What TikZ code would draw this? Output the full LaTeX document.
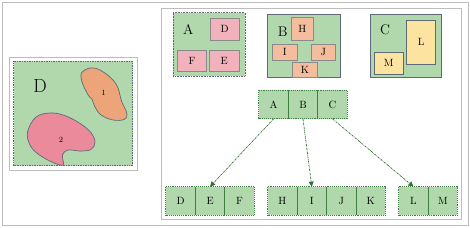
\documentclass[tikz,border=0pt]{standalone}
\usepackage{tikz}
\usetikzlibrary{arrows.meta,positioning}
\definecolor{framegray}{HTML}{BDBDBD}
\definecolor{cellgreen}{HTML}{B0D8AC}
\definecolor{celledge}{HTML}{3E7E3E}
\definecolor{boxedge}{HTML}{5E6A78}
\definecolor{subedge}{HTML}{8A8A8A}
\definecolor{pinkfill}{HTML}{F2B2BC}
\definecolor{salmonfill}{HTML}{F4BE9E}
\definecolor{yellowfill}{HTML}{FDE3A0}
\definecolor{blobone}{HTML}{EDA478}
\definecolor{blobtwo}{HTML}{EA8A9A}
\definecolor{arrowgreen}{HTML}{2F6F2F}
\tikzset{
  cell/.style={fill=cellgreen, minimum width=29.1pt, minimum height=28.4pt, inner sep=0pt, font=\fontsize{10.5}{10.5}\selectfont},
  divider/.style={celledge, line width=0.8pt},
  cellframe/.style={celledge, line width=0.9pt, densely dotted},
  subbox/.style={draw=subedge, line width=0.8pt, inner sep=0pt, font=\fontsize{10.5}{10.5}\selectfont},
  panel/.style={draw=boxedge, fill=cellgreen, line width=0.6pt, inner sep=0pt},
  biglabel/.style={font=\fontsize{14}{14}\selectfont, inner sep=0pt},
  link/.style={arrowgreen, line width=0.7pt, dash pattern=on 2pt off 0.8pt on 0.6pt off 0.8pt, -{Triangle[length=5pt,width=5pt]}},
}
\begin{document}
\begin{tikzpicture}[x=1pt,y=-1pt]
  \useasboundingbox (0,0) rectangle (470,227);
  % frames
  \draw[framegray, line width=1pt] (2.5,2.5) rectangle (468,225.5);
  \draw[framegray, line width=1pt] (161,8.5) rectangle (461.5,219.5);
  \draw[framegray, line width=1pt] (9.5,58) rectangle (137.5,170);
  % region D with its two parts
  \draw[fill=cellgreen, draw=boxedge, line width=0.7pt, densely dotted] (13.5,61.5) rectangle (132.5,165.5);
  \node[font=\fontsize{19}{19}\selectfont, inner sep=0pt] (labd) at (40,86) {D};
  \draw[fill=blobone, draw=boxedge, line width=0.7pt] plot[smooth cycle, tension=0.6] coordinates
    {(90,68) (100,70) (112,79) (118,88) (121.5,101) (127,114) (124,119.5) (113,120) (101,115)
     (94.5,106) (92,99) (89.5,97) (86,91) (82,82) (81.5,73)};
  \node[font=\fontsize{8}{8}\selectfont] (blob1) at (103.5,93) {1};
  \draw[fill=blobtwo, draw=boxedge, line width=0.7pt] plot[smooth cycle, tension=0.6] coordinates
    {(27.5,132) (36,117) (50,113) (63,115) (77,121.5) (90,131.5) (95,142) (91,149.5) (80,151)
     (68,150) (62.5,155) (63,165) (52,162) (38,154) (30,145)};
  \node[font=\fontsize{8}{8}\selectfont] (blob2) at (61,139.5) {2};
  % panel A
  \node[panel, densely dotted, minimum width=71.7pt, minimum height=63.3pt] (pana) at (209.2,44.3) {};
  \node[biglabel] (laba) at (188.3,30) {A};
  \node[subbox, fill=pinkfill, minimum width=29.3pt, minimum height=21.7pt] (pd) at (224.7,29.2) {D};
  \node[subbox, fill=pinkfill, minimum width=29.4pt, minimum height=21pt] (pf) at (192,61.2) {F};
  \node[subbox, fill=pinkfill, minimum width=30pt, minimum height=21pt] (pe) at (224.3,61.2) {E};
  % panel B
  \node[panel, minimum width=72.3pt, minimum height=63.3pt] (panb) at (303.8,45.7) {};
  \node[biglabel] (labb) at (282.7,31.7) {B};
  \node[subbox, fill=salmonfill, minimum width=22.3pt, minimum height=22.7pt] (ph) at (302.2,28.7) {H};
  \node[subbox, fill=salmonfill, minimum width=25pt, minimum height=15.7pt] (pi) at (284.8,52.2) {I};
  \node[subbox, fill=salmonfill, minimum width=24.7pt, minimum height=15.7pt] (pj) at (323.3,52.2) {J};
  \node[subbox, fill=salmonfill, minimum width=24.6pt, minimum height=15.3pt] (pk) at (305,69.7) {K};
  % panel C
  \node[panel, minimum width=71.7pt, minimum height=63.3pt] (panc) at (405.8,45.7) {};
  \node[biglabel] (labc) at (385,30) {C};
  \node[subbox, draw=boxedge, fill=yellowfill, minimum width=29pt, minimum height=44pt] (pl) at (421.2,42) {L};
  \node[subbox, draw=boxedge, fill=yellowfill, minimum width=29pt, minimum height=21.7pt] (pm) at (388.8,63.2) {M};
  % tree: root
  \node[cell] (ca) at (273.5,104.5) {A};
  \node[cell, right=0pt of ca] (cb) {B};
  \node[cell, right=0pt of cb] (cc) {C};
  % tree: leaves
  \node[cell] (cd) at (180.6,201) {D};
  \node[cell, right=0pt of cd] (ce) {E};
  \node[cell, right=0pt of ce] (cf) {F};
  \node[cell] (ch) at (282.3,201) {H};
  \node[cell, right=0pt of ch] (ci) {I};
  \node[cell, right=0pt of ci] (cj) {J};
  \node[cell, right=0pt of cj] (ck) {K};
  \node[cell] (cl) at (413.4,201) {L};
  \node[cell, right=0pt of cl] (cm) {M};
  \foreach \p/\q in {ca/cc,cd/cf,ch/ck,cl/cm}
    \draw[cellframe] (\p.north west) rectangle (\q.south east);
  \foreach \p in {ca,cb,cd,ce,ch,ci,cj,cl}
    \draw[divider] (\p.north east) -- (\p.south east);
  % links
  \draw[link] (ca.south) -- (ce.north);
  \draw[link] (cb.south) -- (ci.north);
  \draw[link] (cc.south) -- (cl.north);
\end{tikzpicture}
\end{document}
